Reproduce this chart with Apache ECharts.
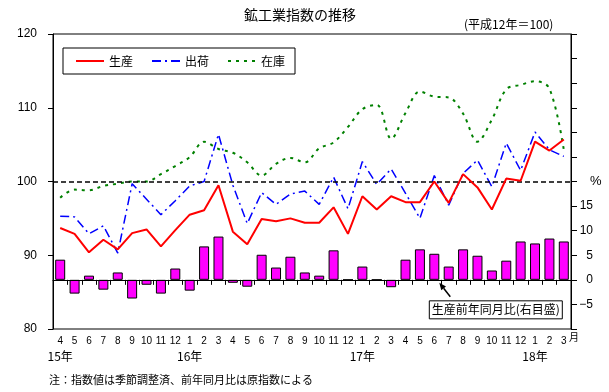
<!DOCTYPE html>
<html><head><meta charset="utf-8">
<script src="https://cdn.jsdelivr.net/npm/echarts@6/dist/echarts.min.js"></script>
<style>html,body{margin:0;padding:0;background:#fff}#c{width:609px;height:392px}</style>
</head><body><div id="c"></div>
<script>
const months = ['4','5','6','7','8','9','10','11','12','1','2','3',
                '4','5','6','7','8','9','10','11','12','1','2','3',
                '4','5','6','7','8','9','10','11','12','1','2','3'];
const yearRow = ['15年','','','','','','','','','16年','','',
                 '','','','','','','','','','17年','','',
                 '','','','','','','','','','18年','',''];
const production = [93.7,92.9,90.4,92.1,90.8,93.0,93.5,91.2,93.4,95.5,96.1,99.5,
                    93.2,91.5,94.9,94.6,95.0,94.4,94.4,96.5,92.9,98.0,96.2,98.0,
                    97.2,97.2,100.0,97.1,101.0,99.2,96.2,100.4,100.1,105.4,104.2,105.7];
const shipments = [95.3,95.2,92.9,94.0,90.3,99.7,97.6,95.5,97.4,99.4,100.0,106.4,
                   99.5,94.3,98.5,96.9,98.3,98.7,96.9,100.6,96.3,102.7,99.6,101.7,
                   98.4,95.0,100.8,96.8,101.1,102.9,99.3,105.2,101.5,106.7,104.3,103.4];
const inventory = [97.8,98.9,98.8,99.4,99.7,100.0,100.0,101.0,102.1,103.3,105.4,104.4,
                   103.9,102.6,100.8,102.4,103.2,102.6,104.5,105.3,107.4,109.8,110.4,105.8,
                   109.3,112.2,111.5,111.4,109.2,105.4,108.4,112.5,113.1,113.6,112.6,104.3];
const yoy = [4.1,-2.8,0.85,-2.0,1.5,-3.8,-1.0,-2.8,2.3,-2.2,6.8,8.8,
             -0.6,-1.4,5.1,2.5,4.7,1.5,0.85,6.0,0,2.7,0,-1.5,
             4.1,6.2,5.3,2.7,6.2,4.9,1.9,3.9,7.8,7.4,8.4,7.8];
const leftTicks = [80,90,100,110,120];
const rightLabels = [-5,0,5,10,15];
const catKeys = months.map((m,i)=>'k'+i);

const JP = '"Noto Sans CJK JP", sans-serif';
const NUM = '"Liberation Sans", Arial, sans-serif';

const chart = echarts.init(document.getElementById('c'), null, {renderer:'canvas'});
chart.setOption({
  animation:false,
  backgroundColor:'#fff',
  grid:{left:53,right:38,top:34,bottom:63,show:true,borderColor:'#000',borderWidth:1,
        containLabel:false, outerBoundsMode:'none'},
  legend:{
    data:['生産','出荷','在庫'],
    left:63, top:48, padding:[7,10,7,12], itemGap:18,
    itemWidth:28, itemHeight:10,
    itemStyle:{opacity:0},
    borderColor:'#000', borderWidth:1, backgroundColor:'#fff',
    textStyle:{fontSize:12,fontFamily:JP,color:'#000'}
  },
  xAxis:{
    type:'category', data:catKeys, boundaryGap:true,
    axisLine:{lineStyle:{color:'#000',width:1}},
    axisTick:{show:true,length:5,lineStyle:{color:'#000'},interval:0},
    axisLabel:{
      interval:0, margin:5, color:'#000',
      formatter:(v,i)=> yearRow[i] ? '{m|'+months[i]+'}\n{y|'+yearRow[i]+'}' : '{m|'+months[i]+'}',
      rich:{m:{fontSize:10,lineHeight:14,fontFamily:NUM,color:'#000'},
            y:{fontSize:12,lineHeight:16,fontFamily:JP,color:'#000'}}
    },
    splitLine:{show:false}
  },
  yAxis:[{
    type:'value', min:80, max:120, interval:10,
    axisLine:{show:true,lineStyle:{color:'#000',width:1}},
    axisTick:{show:true,length:5,lineStyle:{color:'#000'}},
    axisLabel:{fontSize:12,fontFamily:NUM,color:'#000',margin:16,
      formatter:v=> leftTicks.includes(v) ? String(v) : ''},
    splitLine:{show:false}
  },{
    type:'value', position:'right', min:-10, max:50, interval:5,
    axisLine:{show:true,lineStyle:{color:'#000',width:1}},
    axisTick:{show:true,length:6,lineStyle:{color:'#000'}},
    axisLabel:{fontSize:12,fontFamily:NUM,color:'#000',margin:22,align:'right',
      formatter:v=> rightLabels.includes(v) ? (v<0 ? '−'+Math.abs(v) : String(v)) : ''},
    splitLine:{show:false}
  }],
  series:[
    {name:'前年同月比', type:'bar', yAxisIndex:1, data:yoy, barWidth:10, z:1,
     itemStyle:{color:'#FF00FF',borderColor:'#000',borderWidth:1},
     markLine:{silent:true,symbol:'none',label:{show:false},
       lineStyle:{color:'#000',type:'solid',width:1},data:[{yAxis:0}]}},
    {name:'在庫', type:'line', data:inventory, symbol:'none', smooth:0.35, z:3,
     lineStyle:{color:'#008000',width:2,type:[3,5]}, itemStyle:{color:'#008000'}},
    {name:'出荷', type:'line', data:shipments, symbol:'none', z:4,
     lineStyle:{color:'#0000FF',width:1.5,type:[9,4,2,4]}, itemStyle:{color:'#0000FF'}},
    {name:'生産', type:'line', data:production, symbol:'none', z:5,
     lineStyle:{color:'#FF0000',width:2}, itemStyle:{color:'#FF0000'},
     markLine:{silent:true,symbol:'none',label:{show:false},
       lineStyle:{color:'#000',type:[5,3],width:1.5},data:[{yAxis:100}]}}
  ]
});

const base = chart.convertToPixel({xAxisIndex:0,yAxisIndex:1},[26,0]);
const pct = chart.convertToPixel({xAxisIndex:0,yAxisIndex:1},[35,20]);
const tip = [base[0]+5, base[1]+3];
const tail = [base[0]+16, base[1]+17];
const ang = Math.atan2(tip[1]-tail[1], tip[0]-tail[0]);
const hl = 7, hw = 3;
const bx = tip[0]-hl*Math.cos(ang), by = tip[1]-hl*Math.sin(ang);
const head = [tip,[bx+hw*Math.sin(ang), by-hw*Math.cos(ang)],[bx-hw*Math.sin(ang), by+hw*Math.cos(ang)]];
chart.setOption({graphic:[
  {type:'text',x:300,y:8,style:{text:'鉱工業指数の推移',font:'14px '+JP,fill:'#000',textAlign:'center'}},
  {type:'text',x:464,y:18,style:{text:'(平成12年＝100)',font:'12px '+JP,fill:'#000'}},
  {type:'text',x:49,y:374,style:{text:'注：指数値は季節調整済、前年同月比は原指数による',font:'11px '+JP,fill:'#000'}},
  {type:'text',x:569,y:332,style:{text:'月',font:'10px '+JP,fill:'#000'}},
  {type:'text',x:590,y:pct[1]-7,style:{text:'%',font:'13px '+NUM,fill:'#000'}},
  {type:'line',shape:{x1:tail[0],y1:tail[1],x2:bx,y2:by},style:{stroke:'#000',lineWidth:1.5}},
  {type:'polygon',shape:{points:head},style:{fill:'#000'}},
  {type:'rect',shape:{x:base[0]-5,y:base[1]+21,width:133,height:18},style:{fill:'#fff',stroke:'#000',lineWidth:1}},
  {type:'text',x:base[0]-5+66.5,y:base[1]+21+9,style:{text:'生産前年同月比(右目盛)',font:'12px '+JP,fill:'#000',textAlign:'center',textVerticalAlign:'middle'}}
]});
</script></body></html>
